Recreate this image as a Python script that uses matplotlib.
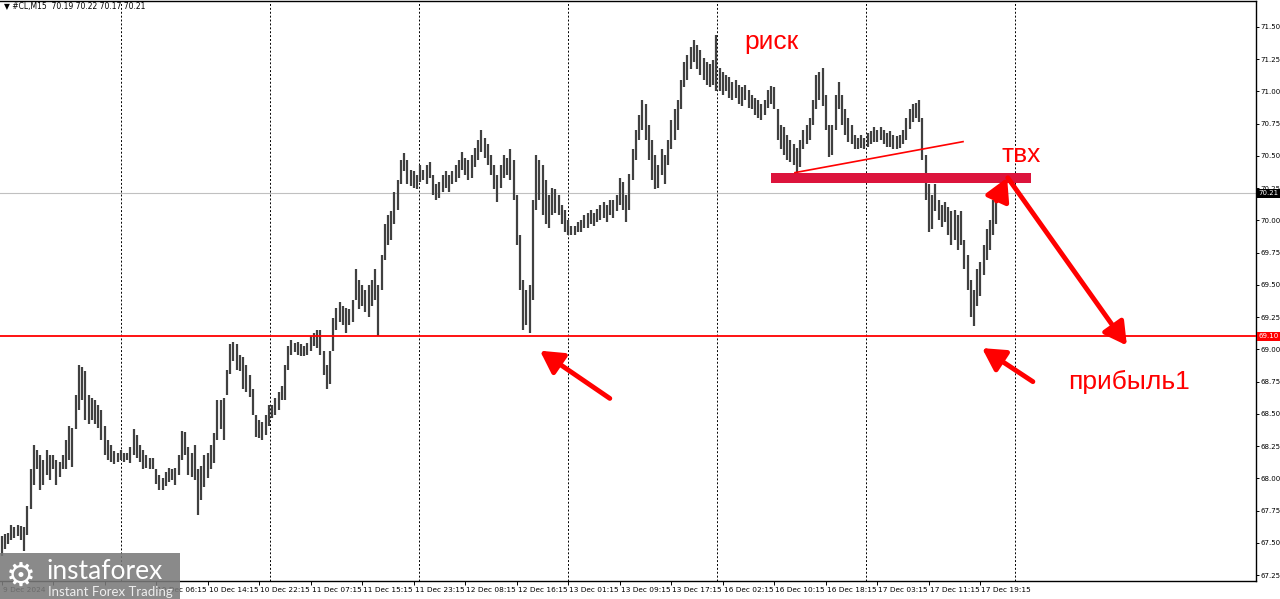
import matplotlib
matplotlib.use("Agg")
import matplotlib.pyplot as plt
from matplotlib.patches import Rectangle
from matplotlib.transforms import blended_transform_factory, ScaledTranslation
import numpy as np

# bar ranges, one entry per two M15 bars
highs = [
    67.55, 67.57, 67.58, 67.64, 67.62, 67.64, 67.63, 67.62, 67.79, 68.07,
    68.26, 68.22, 68.18, 68.14, 68.22, 68.18, 68.18, 68.14, 68.13, 68.18,
    68.30, 68.41, 68.39, 68.65, 68.88, 68.86, 68.83, 68.65, 68.62, 68.61,
    68.57, 68.53, 68.41, 68.30, 68.26, 68.21, 68.20, 68.22, 68.20, 68.20,
    68.24, 68.38, 68.34, 68.26, 68.22, 68.18, 68.16, 68.16, 68.07, 68.03,
    68.00, 68.05, 68.08, 68.07, 68.08, 68.18, 68.37, 68.36, 68.24, 68.20,
    68.26, 68.07, 68.10, 68.18, 68.20, 68.26, 68.35, 68.61, 68.61, 68.62,
    68.84, 69.04, 69.06, 69.04, 68.96, 68.94, 68.88, 68.80, 68.69, 68.49,
    68.45, 68.44, 68.49, 68.57, 68.57, 68.62, 68.67, 68.72, 68.88, 69.03,
    69.07, 69.05, 69.06, 69.04, 69.03, 69.05, 69.10, 69.13, 69.15, 69.15,
    68.99, 68.88, 68.99, 69.24, 69.32, 69.37, 69.34, 69.32, 69.31, 69.38,
    69.62, 69.54, 69.50, 69.46, 69.50, 69.54, 69.62, 69.50, 69.73, 69.97,
    70.04, 70.07, 70.22, 70.31, 70.47, 70.52, 70.47, 70.39, 70.38, 70.35,
    70.43, 70.39, 70.43, 70.45, 70.35, 70.28, 70.30, 70.35, 70.38, 70.35,
    70.38, 70.43, 70.47, 70.53, 70.48, 70.47, 70.51, 70.56, 70.62, 70.70,
    70.64, 70.59, 70.51, 70.43, 70.35, 70.43, 70.51, 70.48, 70.55, 70.47,
    70.20, 69.89, 69.54, 69.46, 69.50, 70.16, 70.51, 70.47, 70.43, 70.31,
    70.20, 70.25, 70.24, 70.20, 70.12, 70.08, 70.00, 69.96, 69.96, 69.99,
    70.00, 70.04, 70.06, 70.08, 70.06, 70.09, 70.12, 70.14, 70.12, 70.16,
    70.16, 70.20, 70.33, 70.30, 70.20, 70.36, 70.55, 70.70, 70.82, 70.93,
    70.90, 70.74, 70.62, 70.51, 70.43, 70.55, 70.51, 70.62, 70.78, 70.86,
    70.93, 71.09, 71.23, 71.28, 71.34, 71.40, 71.36, 71.32, 71.26, 71.23,
    71.21, 71.24, 71.44, 71.18, 71.15, 71.13, 71.11, 71.07, 71.09, 71.05,
    71.03, 71.05, 71.01, 70.97, 70.95, 70.93, 70.90, 70.93, 71.01, 71.04,
    71.03, 70.86, 70.74, 70.72, 70.66, 70.62, 70.59, 70.56, 70.62, 70.70,
    70.74, 70.79, 70.93, 71.13, 71.15, 71.18, 70.97, 70.74, 70.74, 70.97,
    71.07, 70.97, 70.86, 70.79, 70.74, 70.66, 70.64, 70.66, 70.64, 70.68,
    70.69, 70.72, 70.70, 70.72, 70.70, 70.68, 70.69, 70.66, 70.65, 70.66,
    70.70, 70.79, 70.86, 70.90, 70.91, 70.93, 70.79, 70.51, 70.28, 70.20,
    70.28, 70.16, 70.12, 70.14, 70.10, 70.07, 70.08, 70.04, 70.07, 69.85,
    69.73, 69.54, 69.46, 69.62, 69.68, 69.81, 69.93, 70.00, 70.16, 70.23,
]
lows = [
    67.40, 67.45, 67.49, 67.52, 67.54, 67.55, 67.52, 67.44, 67.56, 67.76,
    67.95, 68.07, 67.91, 67.95, 68.03, 67.99, 68.07, 67.95, 68.01, 68.07,
    68.07, 68.14, 68.09, 68.38, 68.53, 68.61, 68.45, 68.42, 68.45, 68.42,
    68.39, 68.30, 68.18, 68.14, 68.13, 68.11, 68.13, 68.14, 68.13, 68.14,
    68.12, 68.18, 68.16, 68.13, 68.07, 68.08, 68.07, 68.07, 67.96, 67.91,
    67.91, 67.94, 67.97, 67.99, 67.95, 68.03, 68.14, 68.18, 68.03, 68.01,
    67.99, 67.72, 67.83, 67.93, 68.00, 68.07, 68.12, 68.30, 68.38, 68.30,
    68.65, 68.81, 68.91, 68.84, 68.83, 68.69, 68.67, 68.63, 68.49, 68.32,
    68.31, 68.30, 68.34, 68.41, 68.47, 68.49, 68.53, 68.61, 68.61, 68.84,
    68.96, 68.98, 68.96, 68.95, 68.95, 68.96, 68.99, 69.03, 69.01, 68.96,
    68.80, 68.69, 68.73, 68.99, 69.15, 69.21, 69.19, 69.13, 69.19, 69.21,
    69.38, 69.31, 69.34, 69.29, 69.25, 69.34, 69.38, 69.10, 69.46, 69.69,
    69.81, 69.85, 69.97, 70.08, 70.28, 70.38, 70.28, 70.27, 70.25, 70.24,
    70.30, 70.31, 70.28, 70.33, 70.20, 70.16, 70.17, 70.22, 70.25, 70.22,
    70.28, 70.30, 70.33, 70.39, 70.35, 70.31, 70.33, 70.41, 70.47, 70.53,
    70.48, 70.43, 70.35, 70.24, 70.14, 70.25, 70.33, 70.35, 70.31, 70.16,
    69.81, 69.46, 69.15, 69.19, 69.13, 69.38, 70.08, 70.16, 70.04, 69.97,
    69.94, 70.04, 70.06, 70.04, 69.97, 69.91, 69.89, 69.89, 69.89, 69.91,
    69.91, 69.94, 69.94, 69.97, 69.96, 69.99, 70.00, 70.02, 69.99, 70.04,
    70.02, 70.07, 70.12, 70.08, 69.99, 70.08, 70.31, 70.47, 70.62, 70.70,
    70.62, 70.47, 70.31, 70.24, 70.25, 70.35, 70.28, 70.43, 70.55, 70.62,
    70.70, 70.86, 71.03, 71.09, 71.17, 71.23, 71.17, 71.13, 71.09, 71.05,
    71.03, 71.05, 71.00, 71.00, 70.97, 71.00, 70.95, 70.93, 70.95, 70.90,
    70.89, 70.93, 70.87, 70.86, 70.82, 70.79, 70.78, 70.82, 70.87, 70.90,
    70.86, 70.62, 70.55, 70.51, 70.47, 70.45, 70.43, 70.37, 70.41, 70.55,
    70.59, 70.62, 70.74, 70.86, 70.93, 70.89, 70.70, 70.49, 70.51, 70.70,
    70.86, 70.74, 70.66, 70.61, 70.59, 70.55, 70.55, 70.56, 70.55, 70.57,
    70.59, 70.61, 70.61, 70.62, 70.59, 70.57, 70.57, 70.55, 70.55, 70.56,
    70.59, 70.62, 70.71, 70.76, 70.79, 70.76, 70.47, 70.16, 69.91, 69.93,
    70.07, 70.00, 69.95, 69.99, 69.89, 69.81, 69.85, 69.77, 69.81, 69.62,
    69.46, 69.25, 69.18, 69.34, 69.41, 69.58, 69.69, 69.77, 69.89, 69.97,
]

tick_pos = list(range(0, 305, 16))
tick_labels = [
    "9 Dec 2024", "", "", "10 Dec 06:15", "10 Dec 14:15",
    "10 Dec 22:15", "11 Dec 07:15", "11 Dec 15:15", "11 Dec 23:15", "12 Dec 08:15",
    "12 Dec 16:15", "13 Dec 01:15", "13 Dec 09:15", "13 Dec 17:15", "16 Dec 02:15",
    "16 Dec 10:15", "16 Dec 18:15", "17 Dec 03:15", "17 Dec 11:15", "17 Dec 19:15",
]

support = 69.10
last_price = 70.21
entry_low, entry_high = 70.29, 70.37

W, H = 1280, 599
fig = plt.figure(figsize=(W / 100, H / 100), dpi=100)
fig.patch.set_facecolor("white")
ax = fig.add_axes([0, 18 / H, 1256 / W, 580 / H])

x = np.arange(len(highs))
ax.vlines(x, lows, highs, color="#404040", lw=1.6, zorder=3)

ax.set_xlim(-0.5, 389.6)
ax.set_ylim(67.205, 71.70)

# price axis on the right, MT4 style
ax.yaxis.tick_right()
yt = np.arange(67.25, 71.51, 0.25)
ax.set_yticks(yt)
ax.set_yticklabels([f"{v:.2f}" for v in yt])
ax.tick_params(axis="y", length=2, width=0.7, pad=1.2, labelsize=5, colors="black")
ax.set_xticks(tick_pos)
ax.set_xticklabels(tick_labels, ha="left")
ax.tick_params(axis="x", length=3, width=0.7, pad=1.5, labelsize=5.3)
shift = ScaledTranslation(1 / 100, 0, fig.dpi_scale_trans)
for lbl in ax.get_xticklabels():
    lbl.set_transform(lbl.get_transform() + shift)

for s in ["top", "right", "bottom"]:
    ax.spines[s].set_linewidth(1.0)
    ax.spines[s].set_color("black")
ax.spines["left"].set_visible(False)

# vertical dashed grid
for gx in 37.1 + 46.25 * np.arange(7):
    ax.axvline(gx, color="black", lw=0.7, ls=(0, (2, 2)), zorder=1)

ax.axhline(last_price, color="#c0c0c0", lw=0.8, zorder=2)
ax.axhline(support, color="red", lw=1.3, zorder=4)

bt = blended_transform_factory(ax.transAxes, ax.transData)
ax.text(1.002, last_price, f"{last_price:.2f}", transform=bt, ha="left", va="center",
        fontsize=5, color="white", zorder=10, clip_on=False,
        bbox=dict(boxstyle="square,pad=0.2", fc="black", ec="none"))
ax.text(1.002, support, f"{support:.2f}", transform=bt, ha="left", va="center",
        fontsize=5, color="white", zorder=10, clip_on=False,
        bbox=dict(boxstyle="square,pad=0.2", fc="red", ec="none"))

# drawings
ax.add_patch(Rectangle((239.0, entry_low), 80.7, entry_high - entry_low,
                       fc="#dc143c", ec="none", zorder=5))
ax.plot([246.4, 298.6], [70.37, 70.61], color="red", lw=1.2, zorder=5)

arrows = [
    ((188.9, 68.62), (167.2, 68.99)),
    ((320.3, 68.75), (304.5, 69.01)),
    ((312.5, 70.33), (349.5, 69.03)),
    ((309.0, 70.15), (312.3, 70.33)),
]
for tail, tip in arrows:
    ax.annotate("", xy=tip, xytext=tail, zorder=6,
                arrowprops=dict(arrowstyle="-|>,head_length=0.9,head_width=0.5",
                                color="red", lw=3.5, mutation_scale=15,
                                shrinkA=0, shrinkB=0, capstyle="round"))

tfont = ["Liberation Sans", "DejaVu Sans"]
ax.text(239, 71.38, "риск", color="red", fontsize=19, family=tfont,
        ha="center", va="center", zorder=7)
ax.text(316.6, 70.51, "твх", color="red", fontsize=19, family=tfont,
        ha="center", va="center", zorder=7)
ax.text(331.2, 68.75, "прибыль1", color="red", fontsize=19, family=tfont,
        ha="left", va="center", zorder=7)

# header
fig.text(4 / W, 1 - 6 / H, "▼ #CL,M15  70.19 70.22 70.17 70.21", fontsize=5.5,
         va="center", ha="left")

# watermark
fig.patches.append(Rectangle((0, 0), 180 / W, 46 / H, transform=fig.transFigure,
                             fc="#7a7a7a", ec="none", alpha=0.88, zorder=20))
fig.text(21 / W, 23 / H, "⚙", fontsize=24, color="white", ha="center", va="center",
         family="DejaVu Sans", zorder=21)
fig.text(46 / W, 20 / H, "instaforex", fontsize=19, color="white", ha="left",
         va="baseline", family="Lato", zorder=21)
fig.text(48 / W, 3 / H, "Instant Forex Trading", fontsize=9.5, color="#eeeeee",
         ha="left", va="baseline", family="Lato", zorder=21)

fig.savefig("out.png", dpi=100)
